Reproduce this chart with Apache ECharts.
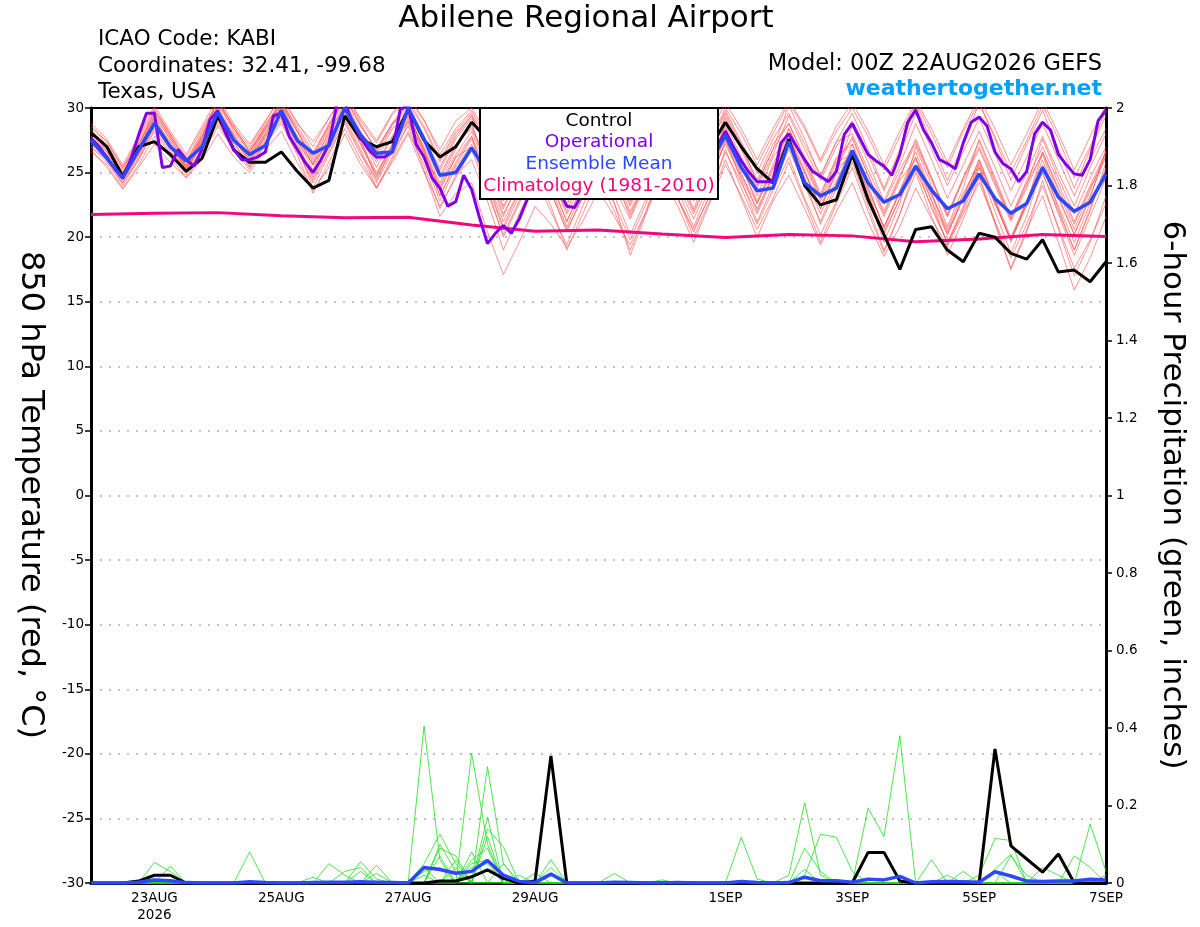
<!DOCTYPE html>
<html><head><meta charset="utf-8">
<script src="https://cdn.jsdelivr.net/npm/echarts@6/dist/echarts.min.js"></script>
<style>html,body{margin:0;padding:0;background:#fff}#c{width:1200px;height:927px}</style>
</head><body><div id="c"></div>
<script>
// ---- x axis labels (hours after 00Z 22AUG2026) ----
const xTickHours = [24, 72, 120, 168, 240, 288, 336, 384];
const xTickLabels = ['23AUG\n2026', '25AUG', '27AUG', '29AUG', '1SEP', '3SEP', '5SEP', '7SEP'];

// ---- 850 hPa temperature, 6-hourly (65 values) ----
const controlTemp = [28.1,27.0,24.7,27.0, 27.4,26.4,25.1,26.1, 29.4,26.75,25.8,25.8, 26.6,25.1,23.8,24.4, 29.4,27.6,27.0,27.4, 29.9,27.5,26.2,27.0, 28.9,27.6,26.0,27.0, 28.6,27.4,25.8,26.8, 28.4,27.0,25.4,26.4, 28.0,26.6,25.2,26.8, 28.9,27.0,25.3,24.2, 27.6,24.0,22.5,22.9, 26.4,22.9,20.2,17.5, 20.6,20.8,19.0,18.1, 20.3,20.0,18.75,18.3, 19.8,17.3,17.45,16.55, 18.1];
const meanTemp = [27.5,26.1,24.6,26.75, 28.8,27.0,25.9,27.0, 29.7,27.5,26.4,27.1, 29.8,27.5,26.5,27.1, 30.0,27.9,26.5,26.6, 30.0,27.6,24.8,25.0, 26.9,25.0,23.8,24.6, 26.6,25.2,23.8,24.6, 26.6,25.2,23.8,24.8, 26.8,25.4,24.2,25.6, 27.9,25.4,23.6,23.8, 27.4,24.2,23.2,23.8, 26.7,24.2,22.7,23.3, 25.5,23.65,22.2,22.8, 24.9,23.0,21.85,22.6, 25.4,23.1,22.0,22.7, 24.9];
// operational run, 3-hourly (129 values)
const operTemp3h = [27.65,27.0,26.2,25.3,24.55,26.0,27.9,29.6, 29.6,25.4,25.5,26.8,26.0,25.5,26.8,29.1, 29.8,28.0,26.8,26.0,26.0,26.2,26.6,29.4, 29.6,27.8,26.8,25.8,25.0,26.0,27.2,30.3, 30.4,28.9,27.7,26.8,26.2,26.2,26.6,29.9, 30.2,27.2,26.2,24.6,23.8,22.4,22.75,24.8, 23.7,21.5,19.5,20.3,20.9,20.3,21.4,22.9, 25.0,26.5,25.5,23.6,22.4,22.3,23.4,25.5, 27.0,26.8,26.0,25.0,24.2,24.6,25.6,27.0, 28.0,27.4,26.4,25.4,24.6,25.0,25.8,27.0, 28.2,27.0,25.9,25.0,24.3,24.3,24.3,27.3, 28.0,27.0,26.0,25.1,24.7,24.3,25.1,27.95, 28.8,27.6,26.4,25.9,25.5,24.8,26.4,28.9, 29.85,28.3,27.3,26.0,25.7,25.3,27.3,28.9, 29.3,28.6,26.6,25.7,25.3,24.3,25.1,28.0, 28.9,28.3,26.4,25.6,24.9,24.8,26.0,29.0, 29.85];
// climatology, daily at 00Z (17 values)
const climDaily = [21.75,21.85,21.9,21.65,21.5,21.55,20.95,20.45,20.55,20.25,19.98,20.2,20.1,19.65,19.85,20.2,20.05];

// ensemble members, 6-hourly
const tm01 = [28.8,27.6,25.6,27.8, 30.2,28.2,26.4,28.6, 30.8,28.8,27.2,29.0, 31.0,28.9,27.0,29.2, 31.2,29.0,27.3,29.5, 30.8,29.1,26.4,28.4, 29.8,27.6,25.0,27.2, 29.6,27.0,24.0,26.8, 29.5,27.2,24.2,27.0, 29.8,27.5,24.5,27.4, 30.0,28.0,25.6,28.0, 30.4,28.4,25.8,28.2, 30.0,27.8,25.2,27.8, 30.4,28.0,25.4,28.2, 30.4,27.8,25.0,27.5, 30.2,27.6,24.6,27.0, 29.8];
const tm02 = [28.2,27.2,25.2,27.4, 29.8,27.8,25.9,28.0, 30.4,28.2,26.6,28.6, 30.6,28.4,26.4,28.8, 30.8,28.6,26.8,28.8, 30.2,27.8,24.8,27.2, 28.4,25.6,22.4,24.8, 27.2,24.6,21.8,24.2, 27.8,25.2,22.6,25.4, 28.6,26.2,23.4,26.4, 29.4,27.0,24.4,27.2, 28.8,26.2,23.4,26.0, 27.6,24.8,22.0,24.8, 27.2,24.4,21.6,24.4, 26.8,24.0,21.2,23.8, 26.6,23.8,21.0,23.8, 26.2];
const tm03 = [27.8,26.8,24.8,26.8, 29.4,27.6,25.4,27.6, 29.8,27.8,26.2,28.4, 30.2,28.2,25.8,28.0, 30.4,28.0,26.0,28.4, 29.6,26.8,23.6,26.2, 27.0,24.2,20.8,23.6, 25.8,23.4,20.6,23.0, 26.4,23.8,21.4,24.2, 27.6,25.0,22.2,25.4, 28.4,26.0,23.2,26.2, 27.8,25.0,22.2,25.0, 26.6,23.8,20.8,23.6, 26.2,23.4,20.6,23.4, 25.6,22.6,19.8,22.8, 26.0,23.0,20.2,23.2, 26.4];
const tm04 = [27.4,26.4,24.4,26.4, 28.8,27.0,25.0,27.2, 29.4,27.6,25.8,27.8, 29.6,27.2,24.4,26.8, 29.2,26.8,24.2,26.6, 28.6,25.2,21.6,23.4, 24.2,20.4,17.1,19.6, 22.4,21.0,19.2,21.2, 23.6,21.6,19.4,22.0, 25.0,23.0,20.6,23.2, 26.6,24.2,21.8,24.6, 27.6,25.0,22.4,25.2, 27.8,24.8,21.8,24.6, 27.6,24.6,21.6,24.6, 27.4,24.4,21.4,24.4, 27.0,24.2,21.2,24.0, 26.6];
const tm05 = [27.0,26.0,24.0,26.0, 28.4,26.6,24.8,26.8, 29.0,27.2,25.6,27.6, 29.4,27.0,23.8,26.4, 29.0,26.6,23.8,26.0, 28.2,25.6,22.2,24.8, 26.0,22.8,19.0,21.8, 24.6,22.0,19.4,22.4, 25.2,22.6,19.8,22.6, 26.2,23.6,20.8,23.8, 27.6,24.4,21.2,24.0, 26.8,24.0,21.2,24.2, 27.2,24.0,20.6,23.6, 26.6,23.4,20.2,23.2, 26.0,22.8,19.8,22.4, 25.0,21.8,18.6,21.6, 24.6];
const tm06 = [28.4,27.4,25.4,27.2, 29.6,27.8,25.8,28.2, 30.6,28.4,26.8,28.8, 30.4,28.6,26.6,28.6, 30.6,28.2,26.4,28.6, 30.4,28.4,25.8,28.0, 29.4,26.6,23.8,26.2, 28.4,25.8,23.0,25.8, 28.8,26.2,23.4,26.0, 28.2,25.6,22.8,25.6, 28.8,26.2,23.8,26.4, 29.4,26.8,24.4,27.0, 29.0,26.4,23.6,26.4, 29.6,26.8,24.0,26.6, 29.2,26.4,23.6,26.2, 28.8,26.0,23.2,26.0, 28.4];
const tm07 = [26.6,25.6,23.8,25.6, 27.8,26.2,24.6,26.4, 28.6,26.8,25.2,27.2, 28.8,26.4,23.4,25.8, 28.4,26.0,23.8,26.2, 28.8,26.2,23.2,25.6, 27.6,24.4,21.2,23.6, 26.2,23.6,20.4,23.2, 25.6,22.6,18.6,21.8, 24.8,22.4,19.6,22.6, 25.6,23.2,20.6,23.0, 25.8,22.8,19.6,22.6, 25.4,22.0,18.8,21.8, 25.0,21.6,18.6,21.4, 24.6,21.0,17.6,20.6, 23.2,19.6,15.9,18.4, 21.6];
const tm08 = [27.6,26.6,24.6,26.6, 29.0,27.4,25.2,27.4, 29.8,27.9,26.0,28.2, 30.0,27.6,25.2,27.8, 30.2,27.8,25.4,27.8, 29.4,27.0,24.6,27.0, 28.6,25.8,22.8,25.2, 27.8,25.2,22.4,25.2, 27.4,24.6,21.6,24.4, 27.0,24.4,21.8,24.6, 27.8,25.4,22.8,25.6, 28.4,25.8,23.0,25.8, 26.4,23.6,20.8,23.4, 25.6,22.8,20.2,23.0, 26.0,23.0,20.0,22.8, 25.4,22.4,19.6,22.6, 25.2];
const tm09 = [26.8,25.4,23.7,25.4, 27.2,25.8,24.6,26.0, 28.0,26.2,25.0,26.8, 28.2,25.8,23.6,25.4, 28.0,25.6,23.8,25.8, 28.0,25.0,22.4,24.6, 26.8,23.4,20.2,22.8, 26.6,23.8,20.8,23.6, 26.8,24.4,21.8,24.4, 27.4,24.8,22.0,24.8, 27.2,24.6,22.2,24.8, 27.6,24.6,21.8,24.4, 26.6,23.4,20.2,23.0, 26.2,22.8,19.4,22.2, 25.4,22.0,18.8,21.6, 25.6,22.2,19.0,22.0, 25.8];
const tm10 = [28.0,27.0,25.0,27.0, 29.2,27.2,25.4,27.8, 30.2,28.4,26.6,28.4, 29.8,27.8,25.6,28.2, 30.8,28.6,26.8,28.8, 29.8,27.4,25.2,27.6, 29.2,27.0,24.4,26.8, 29.2,26.6,23.6,26.4, 29.0,26.6,23.8,26.6, 29.4,27.0,24.2,27.0, 29.8,27.4,25.0,27.6, 29.6,27.2,24.8,27.4, 28.0,25.2,22.6,25.2, 27.4,24.6,21.8,24.6, 27.0,24.2,21.4,24.0, 27.6,24.6,21.8,24.6, 27.0];
const tm11 = [27.2,26.2,24.2,26.2, 28.6,26.8,25.2,27.2, 29.2,27.4,25.4,27.4, 29.0,26.6,24.8,27.0, 29.6,27.2,24.8,27.0, 29.2,26.4,23.8,26.2, 27.8,24.8,21.6,24.4, 27.0,24.4,21.2,24.0, 26.2,23.2,20.2,23.0, 25.8,23.0,20.0,22.8, 26.0,23.0,20.0,22.8, 24.8,22.2,19.4,22.0, 24.2,21.2,18.5,20.8, 23.8,21.4,19.3,21.8, 24.2,21.2,18.4,21.0, 24.0,20.8,17.6,19.8, 22.6];
const tm12 = [28.6,27.4,25.4,27.6, 30.0,28.0,26.2,28.4, 30.4,28.6,27.0,29.0, 30.8,28.8,27.4,29.2, 31.0,29.2,27.5,29.6, 31.0,29.0,26.8,29.0, 30.0,28.0,25.0,27.8, 30.0,27.6,24.6,27.4, 30.2,27.8,24.8,27.8, 30.2,28.0,25.0,28.0, 30.4,28.4,26.0,28.4, 30.6,28.6,26.0,28.6, 30.4,28.2,25.6,28.2, 30.6,28.4,25.8,28.4, 30.8,28.4,25.6,28.0, 30.6,28.0,25.2,27.8, 30.2];
const tm13 = [27.0,25.8,24.2,26.0, 28.2,26.4,25.0,26.8, 28.8,27.0,25.4,27.4, 29.2,26.8,24.2,26.6, 28.8,26.4,24.6,26.8, 29.0,26.6,24.0,26.4, 28.2,25.2,22.2,24.8, 28.4,25.6,22.6,25.2, 27.4,24.8,22.4,25.0, 28.0,25.6,23.0,25.8, 28.6,25.6,22.6,25.4, 27.4,24.4,21.0,23.8, 26.4,23.2,19.6,22.6, 27.0,24.0,20.8,23.8, 27.6,24.6,21.6,24.2, 26.4,23.2,20.2,23.0, 26.8];
const tm14 = [27.4,26.2,24.4,26.4, 28.6,27.0,25.4,27.4, 29.6,27.6,25.8,28.0, 30.2,27.8,25.6,27.6, 29.8,27.4,25.0,27.2, 29.0,26.0,22.8,25.4, 27.2,23.8,20.0,22.6, 25.4,22.4,19.0,21.8, 24.6,22.0,19.0,22.0, 25.8,23.0,20.4,23.2, 26.8,23.8,21.0,23.6, 26.2,23.0,20.2,22.8, 25.8,22.4,19.0,21.8, 25.6,22.2,19.6,22.0, 24.8,21.2,17.5,20.4, 24.4,20.6,17.0,19.6, 23.2];
const tm15 = [28.2,27.0,25.0,27.2, 29.4,27.6,25.6,27.8, 30.0,28.0,26.4,28.4, 30.4,28.2,26.0,28.4, 30.0,27.6,25.8,27.8, 30.0,27.6,25.4,27.8, 29.4,26.8,23.4,26.0, 28.6,26.0,23.2,26.0, 28.4,25.8,22.8,25.6, 28.8,26.4,23.6,26.6, 29.2,26.8,24.0,26.8, 28.8,26.0,23.2,26.2, 27.2,24.4,21.6,24.4, 26.0,23.2,20.4,23.0, 25.4,22.6,19.8,22.6, 26.6,23.6,20.6,23.6, 26.6];
const tm16 = [27.8,26.6,24.8,26.8, 29.2,27.2,25.2,27.4, 29.6,27.6,26.0,27.8, 29.4,27.4,25.6,27.4, 29.4,27.2,24.8,27.2, 29.4,26.8,24.2,26.8, 28.8,25.4,21.8,24.2, 27.2,24.2,21.2,24.0, 27.8,25.0,22.0,24.6, 26.6,24.0,21.4,24.2, 27.4,24.8,22.6,25.2, 28.4,25.6,22.8,25.4, 26.2,23.2,20.4,23.0, 25.2,22.4,19.6,22.4, 25.8,22.8,19.6,22.6, 25.0,22.0,19.0,22.2, 25.4];
const tm17 = [27.6,26.8,24.9,26.6, 29.0,27.0,25.6,27.6, 29.8,27.8,26.2,28.0, 30.0,27.4,24.6,27.2, 29.8,27.6,24.4,27.0, 29.6,26.6,23.2,25.8, 27.8,24.0,20.6,23.2, 26.8,24.6,22.0,25.0, 28.0,25.6,23.2,26.0, 28.8,26.0,23.0,25.8, 27.6,25.0,22.0,24.8, 28.0,25.2,22.2,25.0, 28.6,25.8,22.8,25.6, 28.8,26.0,23.0,25.6, 28.2,25.4,22.4,25.0, 27.8,25.0,22.4,25.4, 28.0];
const tm18 = [28.0,27.0,25.0,27.0, 29.8,28.0,25.8,27.8, 30.6,28.6,26.6,28.6, 30.4,28.2,26.2,28.6, 31.0,28.8,26.6,28.8, 30.6,28.6,26.0,28.2, 29.6,27.2,24.2,26.8, 29.0,26.4,23.4,26.4, 29.4,26.8,24.0,26.8, 29.6,27.2,24.6,27.2, 29.6,27.2,24.2,26.8, 30.2,27.6,24.6,27.4, 29.6,26.8,23.8,26.8, 30.2,27.4,24.4,27.2, 30.4,27.6,24.4,27.2, 29.8,26.8,23.8,26.8, 29.4];

// ---- 6-hour precipitation (inches), 6-hourly (65 values) ----
const precipControl = [0,0,0,0.005,0.02,0.02,0,0,0,0, 0,0,0,0,0,0,0,0,0,0, 0,0,0.005,0.005,0.016,0.034,0.012,0,0.005,0.328, 0,0,0,0,0,0,0,0,0,0, 0,0,0,0,0,0,0,0,0,0.079, 0.079,0.005,0,0,0,0,0,0.346,0.096,0.062, 0.028,0.075,0,0,0];
const precipMean = [0,0,0,0.002,0.008,0.006,0.001,0,0,0, 0.003,0.001,0,0,0.001,0.002,0.002,0.003,0.002,0.001, 0,0.04,0.035,0.025,0.03,0.058,0.02,0.004,0.001,0.023, 0,0,0,0.002,0.001,0,0,0.001,0,0, 0,0.004,0.001,0,0.001,0.015,0.006,0.006,0.002,0.01, 0.008,0.017,0,0.003,0.004,0.003,0.002,0.029,0.018,0.005, 0.004,0.005,0.005,0.01,0.008];
const pm01 = [0,0,0,0,0.053,0.03,0,0,0,0, 0,0,0,0,0,0,0,0,0,0, 0,0.405,0.06,0,0,0,0,0,0,0, 0,0,0,0,0,0,0,0,0,0, 0,0,0,0,0,0.09,0.03,0,0,0, 0,0,0,0,0,0,0,0,0,0, 0,0,0,0,0];
const pm02 = [0,0,0,0,0,0,0,0,0,0, 0.08,0,0,0,0,0,0,0,0,0, 0,0,0,0,0.335,0.1,0,0,0,0, 0,0,0,0,0,0,0,0,0,0, 0,0.118,0.01,0,0,0,0,0,0,0, 0,0,0,0,0,0,0,0,0,0, 0,0,0,0,0];
const pm03 = [0,0,0,0,0,0,0,0,0,0, 0,0,0,0,0,0,0,0.055,0.01,0, 0,0,0,0,0,0.3,0.05,0,0,0, 0,0,0,0,0,0,0,0,0,0, 0,0,0,0,0,0,0,0,0,0.193, 0.12,0.38,0,0,0,0,0,0,0,0, 0,0,0,0,0];
const pm04 = [0,0,0,0,0,0,0,0,0,0, 0,0,0,0,0,0,0,0,0,0, 0,0.05,0.126,0.05,0,0.17,0,0,0,0, 0,0,0,0,0,0,0,0,0,0, 0,0,0,0,0.02,0.207,0.02,0,0,0, 0,0,0,0,0,0,0,0,0,0, 0,0,0,0,0];
const pm05 = [0,0,0,0,0,0,0,0,0,0, 0,0,0,0,0,0.05,0.02,0,0,0, 0,0,0.09,0.07,0,0.14,0.094,0,0,0, 0,0,0,0,0,0,0,0,0,0, 0,0,0,0,0,0.02,0.126,0.118,0.03,0, 0,0,0,0,0,0,0,0,0,0, 0,0,0,0,0];
const pm06 = [0,0,0,0,0,0,0,0,0,0, 0,0,0,0,0,0,0,0,0.046,0, 0,0,0.07,0,0.06,0.09,0,0,0,0, 0,0,0,0,0,0,0,0,0,0, 0,0,0,0,0,0,0,0,0,0, 0,0,0,0,0,0,0.02,0.115,0.11,0, 0,0,0,0,0];
const pm07 = [0,0,0,0,0,0.043,0,0,0,0, 0,0,0,0,0,0,0,0,0,0, 0,0.04,0,0,0.04,0.05,0,0,0,0.06, 0,0,0,0,0,0,0,0,0,0, 0,0,0,0,0,0,0,0,0,0, 0,0,0,0.06,0,0,0,0.035,0.074,0, 0,0,0,0,0];
const pm08 = [0,0,0,0,0,0,0,0,0,0, 0,0,0,0,0,0,0.03,0.04,0,0, 0,0,0,0.06,0,0,0.05,0,0,0, 0,0,0,0,0,0,0,0,0,0, 0,0,0,0,0,0,0,0,0,0, 0,0,0,0,0,0.03,0,0,0,0, 0,0,0.07,0.04,0];
const pm09 = [0,0,0,0,0,0,0,0,0,0, 0,0,0,0,0,0,0,0.03,0,0, 0,0.03,0.04,0,0.05,0.06,0,0,0,0, 0,0,0,0,0,0,0,0,0,0, 0,0,0,0,0,0,0,0,0,0, 0,0,0,0,0,0,0,0,0,0, 0,0,0,0.152,0.03];
const pm10 = [0,0,0,0,0,0,0,0,0,0, 0,0,0,0,0,0,0,0,0,0, 0,0,0.1,0.03,0,0.12,0,0.02,0,0, 0,0,0,0.025,0,0,0,0,0,0, 0,0,0,0,0,0,0,0,0,0, 0,0,0,0,0,0,0,0,0.07,0.02, 0,0,0,0,0];
const pm11 = [0,0,0,0,0,0,0,0,0,0, 0,0,0,0,0,0,0,0,0.025,0, 0,0,0,0,0.08,0,0,0,0.025,0, 0,0,0,0,0,0,0.008,0,0,0, 0,0,0,0,0,0,0,0,0,0, 0,0,0,0,0,0,0,0,0,0, 0.04,0.02,0,0,0.02];
const pm12 = [0,0,0,0,0,0,0,0,0,0, 0,0,0,0,0.015,0,0,0,0,0, 0,0.02,0,0.04,0,0,0,0,0,0.04, 0,0,0,0,0,0,0,0,0,0, 0,0,0,0,0,0.035,0,0,0,0, 0,0,0,0,0.02,0,0,0.03,0,0, 0,0,0,0,0];

const tempMembers = [tm01,tm02,tm03,tm04,tm05,tm06,tm07,tm08,tm09,tm10,tm11,tm12,tm13,tm14,tm15,tm16,tm17,tm18];
const precipMembers = [pm01,pm02,pm03,pm04,pm05,pm06,pm07,pm08,pm09,pm10,pm11,pm12];

const FONT = '"DejaVu Sans", "Liberation Sans", Arial, sans-serif';
const six = a => a.map((v, i) => [i * 6, v]);
const three = a => a.map((v, i) => [i * 3, v]);
const daily = a => a.map((v, i) => [i * 24, v]);

const series = [];
tempMembers.forEach(m => series.push({
  type: 'line', data: six(m), yAxisIndex: 0, symbol: 'none', silent: true, z: 2,
  lineStyle: { color: '#ff4a4a', width: 0.8, opacity: 0.75 }
}));
series.push({ type: 'line', data: daily(climDaily), yAxisIndex: 0, symbol: 'none', z: 3,
  lineStyle: { color: '#f0087c', width: 3 } });
precipMembers.forEach(m => series.push({
  type: 'line', data: six(m), yAxisIndex: 1, symbol: 'none', silent: true, z: 3,
  lineStyle: { color: '#22dd22', width: 0.8 }
}));
series.push({ type: 'line', data: six(controlTemp), yAxisIndex: 0, symbol: 'none', z: 5,
  lineStyle: { color: '#000000', width: 3 } });
series.push({ type: 'line', data: six(precipControl), yAxisIndex: 1, symbol: 'none', z: 5,
  lineStyle: { color: '#000000', width: 3 } });
series.push({ type: 'line', data: three(operTemp3h), yAxisIndex: 0, symbol: 'none', z: 6,
  lineStyle: { color: '#7f00e6', width: 3 } });
series.push({ type: 'line', data: six(meanTemp), yAxisIndex: 0, symbol: 'none', z: 7,
  lineStyle: { color: '#2b48ff', width: 3.5 } });
series.push({ type: 'line', data: six(precipMean), yAxisIndex: 1, symbol: 'none', z: 7,
  lineStyle: { color: '#2b48ff', width: 3.5 } });

const chart = echarts.init(document.getElementById('c'), null, { renderer: 'canvas' });
chart.setOption({
  backgroundColor: '#ffffff',
  animation: false,
  textStyle: { fontFamily: FONT },
  grid: { left: 91, right: 94, top: 108, bottom: 44, containLabel: false },
  xAxis: [{
    type: 'value', min: 0, max: 384, interval: 24, position: 'bottom',
    axisLine: { show: true, onZero: false, lineStyle: { color: '#000', width: 3 } },
    axisTick: { show: false }, splitLine: { show: false },
    axisLabel: {
      color: '#000', fontSize: 13.5, fontFamily: FONT, margin: 7, lineHeight: 17,
      formatter: v => { const k = xTickHours.indexOf(v); return k >= 0 ? xTickLabels[k] : ''; }
    }
  }, {
    type: 'value', min: 0, max: 384, position: 'top',
    axisLine: { show: true, onZero: false, lineStyle: { color: '#000', width: 2 } },
    axisTick: { show: false }, axisLabel: { show: false }, splitLine: { show: false }
  }],
  yAxis: [{
    type: 'value', min: -30, max: 30, interval: 5, position: 'left',
    axisLine: { show: true, onZero: false, lineStyle: { color: '#000', width: 3 } },
    axisTick: { show: true, length: 6, lineStyle: { color: '#000', width: 1.5 } },
    axisLabel: { color: '#000', fontSize: 13.5, fontFamily: FONT, margin: 7 },
    splitLine: { show: true, lineStyle: { color: '#b0b0b0', width: 1.5, type: [2, 7] } }
  }, {
    type: 'value', min: 0, max: 2, interval: 0.2, position: 'right',
    axisLine: { show: true, onZero: false, lineStyle: { color: '#000', width: 3 } },
    axisTick: { show: true, length: 6, lineStyle: { color: '#000', width: 1.5 } },
    axisLabel: { color: '#000', fontSize: 13.5, fontFamily: FONT, margin: 10,
      formatter: v => String(Math.round(v * 10) / 10) },
    splitLine: { show: false }
  }],
  graphic: [
    { type: 'text', x: 586, y: 19, z: 100,
      style: { text: 'Abilene Regional Airport', font: '31px ' + FONT, fill: '#000', textAlign: 'center', textVerticalAlign: 'middle' } },
    { type: 'text', x: 98, y: 39, z: 100,
      style: { text: 'ICAO Code: KABI', font: '21.5px ' + FONT, fill: '#000', textVerticalAlign: 'middle' } },
    { type: 'text', x: 98, y: 66, z: 100,
      style: { text: 'Coordinates: 32.41, -99.68', font: '21.5px ' + FONT, fill: '#000', textVerticalAlign: 'middle' } },
    { type: 'text', x: 98, y: 92, z: 100,
      style: { text: 'Texas, USA', font: '21.5px ' + FONT, fill: '#000', textVerticalAlign: 'middle' } },
    { type: 'text', x: 1102, y: 64, z: 100,
      style: { text: 'Model: 00Z 22AUG2026 GEFS', font: '22.5px ' + FONT, fill: '#000', textAlign: 'right', textVerticalAlign: 'middle' } },
    { type: 'text', x: 1102, y: 89, z: 100,
      style: { text: 'weathertogether.net', font: 'bold 22px ' + FONT, fill: '#00a0ff', textAlign: 'right', textVerticalAlign: 'middle' } },
    { type: 'text', x: 30, y: 495, rotation: -Math.PI / 2, z: 100,
      style: { text: '850 hPa Temperature (red, °C)', font: '32px ' + FONT, fill: '#000', textAlign: 'center', textVerticalAlign: 'middle' } },
    { type: 'text', x: 1172, y: 495, rotation: -Math.PI / 2, z: 100,
      style: { text: '6-hour Precipitation (green, inches)', font: '31px ' + FONT, fill: '#000', textAlign: 'center', textVerticalAlign: 'middle' } },
    { type: 'rect', z: 100, shape: { x: 480, y: 108, width: 238, height: 91 },
      style: { fill: '#fff', stroke: '#000', lineWidth: 2 } },
    { type: 'text', x: 599, y: 121, z: 101,
      style: { text: 'Control', font: '18.5px ' + FONT, fill: '#000', textAlign: 'center', textVerticalAlign: 'middle' } },
    { type: 'text', x: 599, y: 142, z: 101,
      style: { text: 'Operational', font: '18.5px ' + FONT, fill: '#7f00e6', textAlign: 'center', textVerticalAlign: 'middle' } },
    { type: 'text', x: 599, y: 164, z: 101,
      style: { text: 'Ensemble Mean', font: '18.5px ' + FONT, fill: '#2b48ff', textAlign: 'center', textVerticalAlign: 'middle' } },
    { type: 'text', x: 599, y: 186, z: 101,
      style: { text: 'Climatology (1981-2010)', font: '18.5px ' + FONT, fill: '#f0087c', textAlign: 'center', textVerticalAlign: 'middle' } }
  ],
  series: series
});
</script>
</body></html>
